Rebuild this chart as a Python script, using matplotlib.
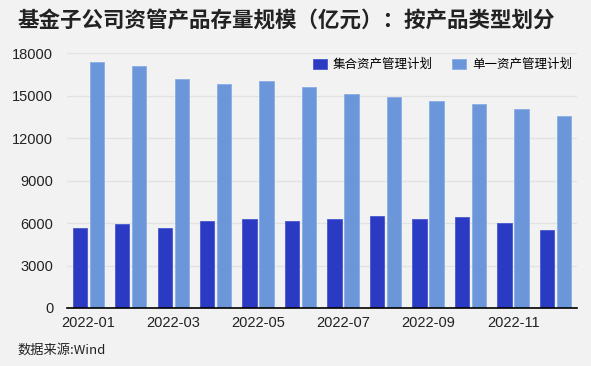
import numpy as np
import matplotlib
matplotlib.use('Agg')
import matplotlib.pyplot as plt

plt.rcParams['font.family'] = ['Liberation Sans', 'Noto Sans CJK SC', 'DejaVu Sans']

months = ['2022-01', '2022-02', '2022-03', '2022-04', '2022-05', '2022-06',
          '2022-07', '2022-08', '2022-09', '2022-10', '2022-11', '2022-12']
collective = [5680, 5960, 5680, 6120, 6290, 6120, 6290, 6480, 6270, 6410, 6010, 5540]
single = [17370, 17100, 16170, 15840, 16070, 15650, 15150, 14900, 14640, 14400, 14050, 13580]
yticks = [0, 3000, 6000, 9000, 12000, 15000, 18000]

bg = '#f2f2f2'
dark = '#2a3ac3'
light = '#6b96da'

fig = plt.figure(figsize=(5.91, 3.66), dpi=100)
fig.set_facecolor(bg)
ax = fig.add_axes([0.1134, 0.1585, 0.8626, 0.6959])
ax.set_facecolor(bg)

x = np.arange(len(months))
w = 0.34
ax.bar(x - 0.2, collective, width=w, color=dark, edgecolor='#4a58d0', linewidth=0.6,
       label='集合资产管理计划', zorder=3)
ax.bar(x + 0.2, single, width=w, color=light, edgecolor='#8aaee6', linewidth=0.6,
       label='单一资产管理计划', zorder=3)

ax.set_xlim(-0.5, 11.5)
ax.set_ylim(0, 18000)
ax.set_yticks(yticks)
ax.set_yticklabels([str(v) for v in yticks])
ax.yaxis.grid(True, color='#e2e2e2', linewidth=0.9, zorder=0)
ax.set_xticks(x[::2])
ax.set_xticklabels(months[::2])
ax.tick_params(axis='both', length=0, labelsize=10.5, labelcolor='#222222')
ax.tick_params(axis='y', pad=10)
ax.tick_params(axis='x', pad=6)

for s in ['top', 'right', 'left']:
    ax.spines[s].set_visible(False)
ax.spines['bottom'].set_color('black')
ax.spines['bottom'].set_linewidth(1.2)
ax.spines['bottom'].set_zorder(4)

ax.legend(loc='upper right', bbox_to_anchor=(1.0, 1.0), ncol=2, frameon=False,
          handlelength=1.1, handleheight=0.8, columnspacing=1.5,
          handletextpad=0.5, borderaxespad=0,
          prop={'family': ['Noto Sans CJK SC'], 'size': 9})

fig.text(0.03, 0.943, '基金子公司资管产品存量规模（亿元）：按产品类型划分',
         fontsize=15.5, fontweight='bold', family=['Noto Sans CJK SC'],
         color='#222222', va='center', ha='left')
fig.text(0.03, 0.042, '数据来源:Wind', fontsize=9.5,
         family=['Noto Sans CJK SC', 'Liberation Sans'], color='#222222',
         va='center', ha='left')

plt.savefig('out.png', dpi=100, facecolor=bg)
plt.close()
